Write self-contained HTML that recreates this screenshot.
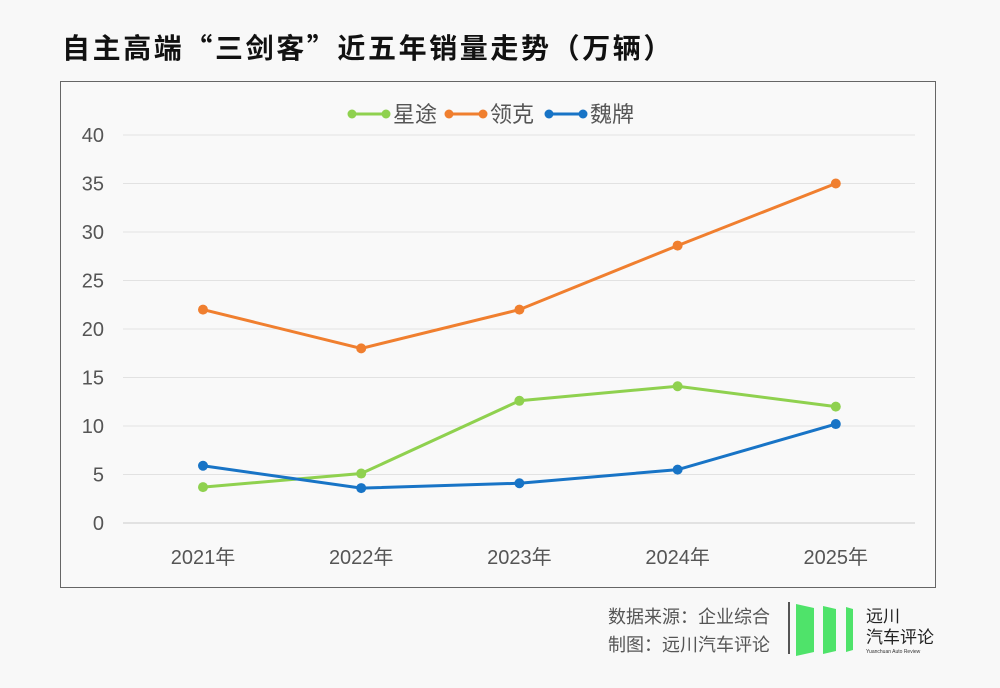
<!DOCTYPE html>
<html><head><meta charset="utf-8">
<style>
body{margin:0;width:1000px;height:688px;background:#f8f8f8;font-family:"Liberation Sans","Noto Sans CJK SC",sans-serif;position:relative;overflow:hidden}
.title{position:absolute;left:62px;top:27px;font-size:28px;font-weight:bold;color:#111;letter-spacing:2.6px;font-family:"Noto Sans CJK SC",sans-serif}
.box{position:absolute;left:60px;top:81px;width:874px;height:505px;border:1.5px solid #666;background:#f9f9f9}
.src{position:absolute;left:608px;top:603px;font-size:18px;color:#555;line-height:28px}
.logo{position:absolute;left:788px;top:600px}
</style></head><body>
<div class="title">自主高端“三剑客”近五年销量走势（万辆）</div>
<div class="box"></div>
<svg id="c" width="1000" height="688" style="position:absolute;left:0;top:0"></svg>
<div class="src">数据来源：企业综合<br>制图：远川汽车评论</div>
<svg class="logo" width="170" height="60">
<rect x="0" y="2" width="2" height="52" fill="#555"/>
<polygon points="8,4 26,8 26,52 8,56" fill="#4fe36a"/>
<polygon points="35,6 48,9 48,51 35,54" fill="#4fe36a"/>
<polygon points="58,7 65,9 65,50 58,52" fill="#4fe36a"/>
<text x="78" y="22" font-size="17" fill="#222" font-family="Liberation Sans,Noto Sans CJK SC,sans-serif">远川</text>
<text x="78" y="43" font-size="17" fill="#222" font-family="Liberation Sans,Noto Sans CJK SC,sans-serif">汽车评论</text>
<text x="78" y="53" font-size="5" fill="#333" font-family="Liberation Sans,sans-serif">Yuanchuan Auto Review</text>
</svg>
<script>
const categories=["2021年","2022年","2023年","2024年","2025年"];
const seriesNames=["星途","领克","魏牌"];
const xingtu=[3.7,5.1,12.6,14.1,12.0];
const lynk=[22,18,22,28.6,35];
const wey=[5.9,3.6,4.1,5.5,10.2];
const yTicks=[0,5,10,15,20,25,30,35,40];
const colors=["#8fd14f","#f07f2f","#1874c6"];
const svg=document.getElementById('c');const NS="http://www.w3.org/2000/svg";
const y=v=>523-v*(388/40);
const x=i=>203+i*158.2;
function el(t,a){const e=document.createElementNS(NS,t);for(const k in a)e.setAttribute(k,a[k]);svg.appendChild(e);return e;}
yTicks.forEach(t=>{
 const l=el('line',{x1:123,x2:915,y1:y(t),y2:y(t),stroke:t===0?'#ccc':'#e2e2e2','stroke-width':1});
 
 
 const tx=el('text',{x:104,y:y(t)+7,'text-anchor':'end','font-size':20,fill:'#555'});tx.textContent=t;
 
 
});
categories.forEach((c,i)=>{
 const tx=el('text',{x:x(i),y:564,'text-anchor':'middle','font-size':20,fill:'#555'});tx.textContent=c;
 
 
});
[xingtu,lynk,wey].forEach((s,k)=>{
 const p=el('polyline',{points:s.map((v,i)=>x(i)+','+y(v)).join(' '),fill:'none',stroke:colors[k],'stroke-width':3});
 
 
 s.forEach((v,i)=>{const c=el('circle',{cx:x(i),cy:y(v),r:5,fill:colors[k]});
 
 });
});
const lx=[352,449,549];
seriesNames.forEach((n,k)=>{
 el('line',{x1:lx[k],x2:lx[k]+34,y1:114,y2:114,stroke:colors[k],'stroke-width':3});
 el('circle',{cx:lx[k],cy:114,r:4.5,fill:colors[k]});el('circle',{cx:lx[k]+34,cy:114,r:4.5,fill:colors[k]});
 const t=el('text',{x:lx[k]+41,y:122,'font-size':22,fill:'#555'});t.textContent=n;
 
 
});
</script>
</body></html>
